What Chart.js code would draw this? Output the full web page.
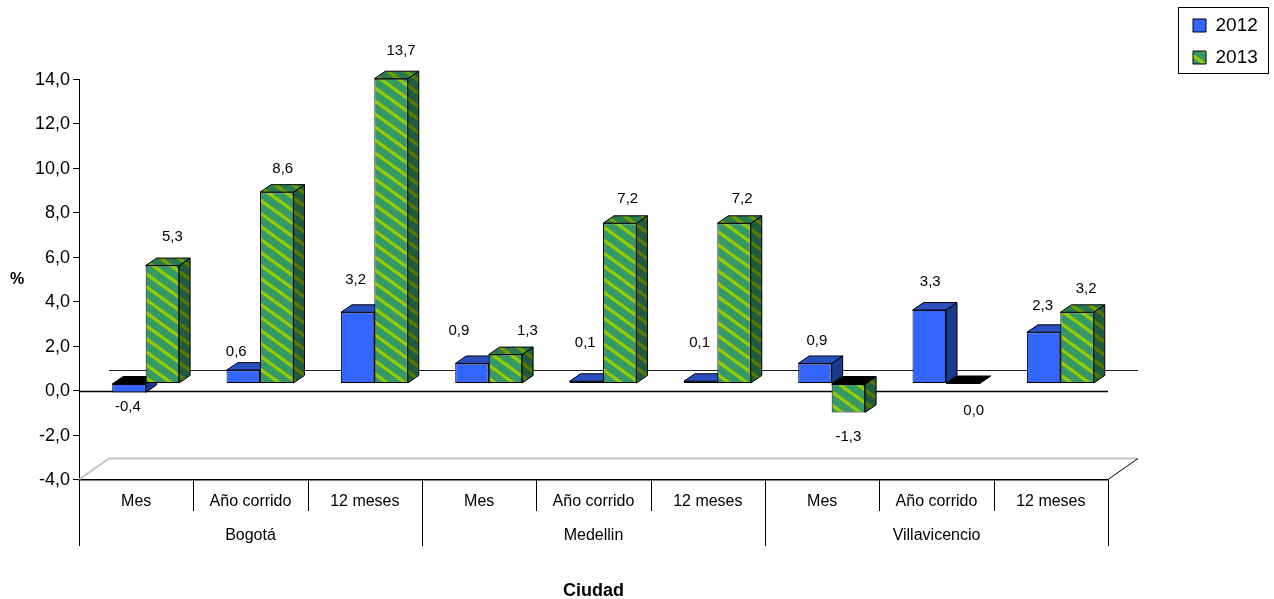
<!DOCTYPE html>
<html>
<head>
<meta charset="utf-8">
<style>html,body{margin:0;padding:0;background:#fff}canvas{display:block}</style>
<script src="https://cdn.jsdelivr.net/npm/chart.js@4"></script>
</head>
<body>
<canvas id="c" width="1274" height="599"></canvas>
<script>
const categories = ['Mes','Año corrido','12 meses','Mes','Año corrido','12 meses','Mes','Año corrido','12 meses'];
const cities = ['Bogotá','Medellin','Villavicencio'];
const values2012 = [-0.4,0.6,3.2,0.9,0.1,0.1,0.9,3.3,2.3];
const values2013 = [5.3,8.6,13.7,1.3,7.2,7.2,-1.3,0,3.2];
const labelOffsets2012 = [[-1,14],[-7,-18],[-2,-32],[-13,-33],[-1,-38],[-1,-38],[2,-23],[1,-28],[-1,-26]];
const labelOffsets2013 = [[10,-29],[6,-23],[10,-28],[22,-24],[8,-24],[8,-24],[0,24],[11,27],[9,-23]];

const FONT = '"Liberation Sans", Arial, sans-serif';
const shift = {x: 9.5, y: -7};
const depth = {x: 11, y: 7.5};

function stripes(bg, fg) {
  const w = 18, h = 13, t = document.createElement('canvas');
  t.width = w; t.height = h;
  const g = t.getContext('2d');
  g.fillStyle = bg; g.fillRect(0, 0, w, h);
  g.strokeStyle = fg; g.lineWidth = 3.3;
  for (let k = -w; k <= w; k += w) {
    g.beginPath(); g.moveTo(k - w, -h); g.lineTo(k + 2 * w, 2 * h); g.stroke();
  }
  return document.getElementById('c').getContext('2d').createPattern(t, 'repeat');
}
const greenFront = stripes('#339966', '#99CC00');
const greenTop = stripes('#287a50', '#7a9f00');
const greenSide = stripes('#1f5c3d', '#5c7a00');
const faces = [
  {top: '#2850c0', side: '#1c3a8c', offsets: labelOffsets2012},
  {top: greenTop, side: greenSide, offsets: labelOffsets2013}
];
const fmt = v => v.toFixed(1).replace('.', ',');

function poly(ctx, pts, fill) {
  ctx.beginPath();
  pts.forEach((p, i) => i ? ctx.lineTo(p[0], p[1]) : ctx.moveTo(p[0], p[1]));
  ctx.closePath();
  ctx.fillStyle = fill; ctx.fill();
  ctx.lineWidth = 1; ctx.strokeStyle = '#000'; ctx.stroke();
}
function line(ctx, a, b, c, d, color, w) {
  ctx.beginPath(); ctx.moveTo(a, b); ctx.lineTo(c, d);
  ctx.strokeStyle = color; ctx.lineWidth = w || 1; ctx.stroke();
}
function drawFaces(chart, index) {
  const ctx = chart.ctx, f = faces[index];
  chart.getDatasetMeta(index).data.forEach((el, i) => {
    const p = el.getProps(['x', 'y', 'base', 'width'], true);
    const l = p.x - p.width / 2, r = p.x + p.width / 2;
    const top = Math.min(p.y, p.base), bot = Math.max(p.y, p.base);
    const v = chart.data.datasets[index].data[i];
    poly(ctx, [[r, top], [r + depth.x, top - depth.y], [r + depth.x, bot - depth.y], [r, bot]], f.side);
    poly(ctx, [[l, top], [l + depth.x, top - depth.y], [r + depth.x, top - depth.y], [r, top]], v > 0 ? f.top : '#000');
  });
}

const bars3d = {
  id: 'bars3d',
  afterLayout(chart) {
    const l = chart.legend;
    l.left = 1180; l.top = 3; l.right = 1274; l.bottom = 300;
    l.width = 94; l.height = 297;
  },
  beforeDatasetsDraw(chart) {
    const {ctx, chartArea: a, scales: {y}} = chart;
    const zero = Math.round(y.getPixelForValue(0)) + 0.5;
    const bx = 30, by = 21;
    ctx.save();
    // back wall and floor
    line(ctx, a.left + bx, zero - by, a.right + bx, zero - by, '#222', 1.2);
    line(ctx, a.left, zero, a.right, zero, '#000', 1.5);
    line(ctx, a.left + bx, a.bottom - by, a.right + bx, a.bottom - by, '#c4c4c4', 2);
    line(ctx, a.left, a.bottom, a.left + bx, a.bottom - by, '#c4c4c4', 2);
    line(ctx, a.right, a.bottom, a.right + bx, a.bottom - by, '#000', 1);
    // level separators under the axis
    const cw = (a.right - a.left) / categories.length;
    for (let i = 0; i <= categories.length; i++) {
      const px = Math.round(a.left + i * cw) + 0.5;
      line(ctx, px, a.bottom, px, i % 3 === 0 ? 546 : 511, '#000', 1);
    }
    // "%" axis name
    ctx.fillStyle = '#000'; ctx.font = 'bold 16px ' + FONT;
    ctx.textAlign = 'center'; ctx.textBaseline = 'middle';
    ctx.fillText('%', 17, 280);
    // 2012 depth faces go under the 2013 bars
    ctx.translate(shift.x, shift.y);
    drawFaces(chart, 0);
    ctx.restore();
  },
  beforeDatasetDraw(chart, args) {
    const ctx = chart.ctx;
    ctx.save();
    ctx.translate(shift.x, shift.y);
    if (args.index === 1) drawFaces(chart, 1);
  },
  afterDatasetDraw(chart) { chart.ctx.restore(); },
  afterDatasetsDraw(chart) {
    const ctx = chart.ctx;
    ctx.save();
    ctx.fillStyle = '#000'; ctx.font = '15px ' + FONT;
    ctx.textAlign = 'center'; ctx.textBaseline = 'middle';
    chart.data.datasets.forEach((ds, d) => {
      chart.getDatasetMeta(d).data.forEach((el, i) => {
        const p = el.getProps(['x', 'y', 'base'], true);
        const o = faces[d].offsets[i];
        const edge = ds.data[i] < 0 ? Math.max(p.y, p.base) : Math.min(p.y, p.base);
        ctx.fillText(fmt(ds.data[i]), p.x + shift.x + o[0], edge + shift.y + o[1]);
      });
    });
    ctx.restore();
  },
  afterDraw(chart) {
    const ctx = chart.ctx;
    ctx.save();
    ctx.strokeStyle = '#000'; ctx.lineWidth = 1;
    ctx.strokeRect(1178.5, 7.5, 90, 66);
    ctx.restore();
  }
};

new Chart(document.getElementById('c'), {
  type: 'bar',
  data: {
    labels: categories,
    datasets: [
      {label: '2012', data: values2012, backgroundColor: '#3366FF', borderColor: '#000', borderWidth: 1, borderSkipped: false, clip: false, xAxisID: 'x', yAxisID: 'y'},
      {label: '2013', data: values2013, backgroundColor: greenFront, borderColor: '#000', borderWidth: 1, borderSkipped: false, clip: false, xAxisID: 'x', yAxisID: 'y'}
    ]
  },
  plugins: [bars3d],
  options: {
    responsive: false,
    animation: false,
    events: [],
    categoryPercentage: 0.585,
    barPercentage: 1,
    layout: {padding: {left: 0, top: 79, right: 166, bottom: 0}},
    plugins: {
      title: {display: false},
      tooltip: {enabled: false},
      legend: {
        display: true, position: 'chartArea', align: 'start',
        labels: {boxWidth: 13, boxHeight: 13, padding: 13, color: '#000', font: {family: FONT, size: 19}}
      }
    },
    scales: {
      y: {
        min: -4, max: 14,
        afterFit(s) { s.width = 79; },
        ticks: {stepSize: 2, color: '#000', padding: 3, labelOffset: 1, font: {family: FONT, size: 18}, callback: v => fmt(v)},
        grid: {drawOnChartArea: false, drawTicks: true, tickLength: 6, color: '#000'},
        border: {display: true, color: '#000', width: 1}
      },
      x: {
        type: 'category', weight: 1, offset: true,
        afterFit(s) { s.height = 35.5; },
        ticks: {color: '#000', padding: 12, autoSkip: false, maxRotation: 0, font: {family: FONT, size: 16}},
        grid: {display: true, drawOnChartArea: false, drawTicks: false, color: 'rgba(0,0,0,0)'},
        border: {display: true, color: '#000', width: 1.5}
      },
      x2: {
        type: 'category', axis: 'x', position: 'bottom', weight: 2, offset: true,
        labels: cities,
        afterFit(s) { s.height = 84; },
        ticks: {color: '#000', padding: 3, autoSkip: false, maxRotation: 0, font: {family: FONT, size: 16}},
        grid: {display: false},
        border: {display: false},
        title: {display: true, text: 'Ciudad', color: '#000', font: {family: FONT, size: 18, weight: 'bold'}, padding: {top: 0, bottom: -3}}
      }
    }
  }
});
</script>
</body>
</html>
